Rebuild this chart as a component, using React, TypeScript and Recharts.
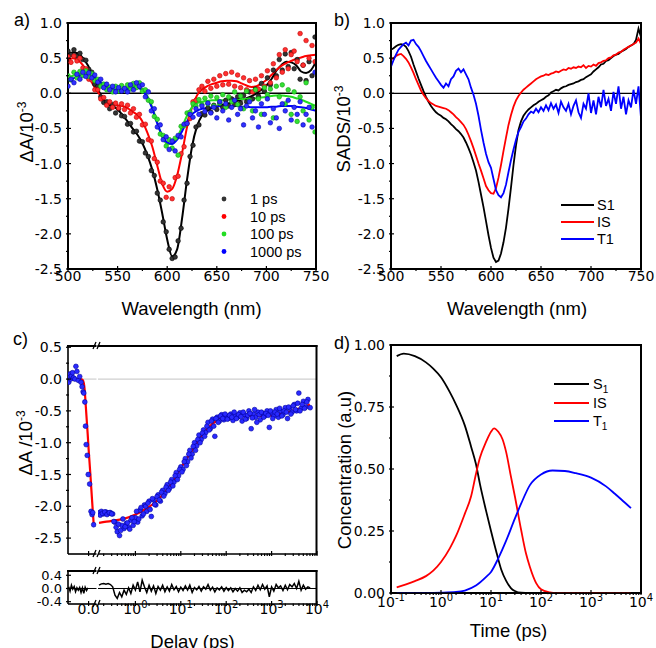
import React from "react";
import { ComposedChart, Line, Scatter, XAxis, YAxis, ReferenceLine, ReferenceArea } from "recharts";

// ---------------- Panel a: transient spectra ----------------
const WL_FIT = [500,505,510,515,520,525,530,535,540,545,550,555,560,565,570,575,580,585,590,595,600,605,610,615,620,625,630,635,640,645,650,655,660,665,670,675,680,685,690,695,700,705,710,715,720,725,730,735,740,745,750];
const FIT_1PS = [0.57,0.58,0.57,0.50,0.40,0.24,0.07,-0.08,-0.16,-0.18,-0.23,-0.31,-0.40,-0.50,-0.59,-0.71,-0.88,-1.09,-1.37,-1.71,-2.08,-2.32,-2.22,-1.78,-1.23,-0.76,-0.47,-0.32,-0.25,-0.21,-0.19,-0.17,-0.15,-0.13,-0.11,-0.09,-0.07,-0.04,0.00,0.05,0.11,0.20,0.32,0.40,0.45,0.44,0.40,0.31,0.29,0.33,0.45];
const FIT_10PS = [0.47,0.50,0.47,0.40,0.27,0.13,0.02,-0.08,-0.14,-0.16,-0.17,-0.18,-0.21,-0.26,-0.31,-0.40,-0.56,-0.76,-1.03,-1.29,-1.40,-1.36,-1.17,-0.85,-0.48,-0.20,-0.03,0.05,0.10,0.13,0.15,0.17,0.18,0.18,0.17,0.14,0.11,0.09,0.10,0.14,0.19,0.26,0.33,0.39,0.43,0.46,0.49,0.51,0.53,0.54,0.55];
const FIT_100PS = [0.22,0.25,0.27,0.28,0.27,0.23,0.17,0.11,0.07,0.05,0.05,0.06,0.08,0.10,0.10,0.06,-0.04,-0.20,-0.42,-0.62,-0.72,-0.72,-0.63,-0.48,-0.32,-0.20,-0.14,-0.12,-0.11,-0.10,-0.10,-0.10,-0.09,-0.09,-0.08,-0.08,-0.08,-0.07,-0.07,-0.06,-0.05,-0.04,-0.03,-0.03,-0.04,-0.05,-0.07,-0.09,-0.12,-0.15,-0.18];
const FIT_1000PS = [0.17,0.21,0.24,0.26,0.26,0.24,0.19,0.13,0.09,0.06,0.05,0.05,0.06,0.08,0.08,0.04,-0.06,-0.22,-0.43,-0.60,-0.70,-0.72,-0.66,-0.54,-0.40,-0.30,-0.25,-0.22,-0.21,-0.20,-0.19,-0.18,-0.18,-0.18,-0.18,-0.19,-0.19,-0.20,-0.20,-0.20,-0.20,-0.19,-0.19,-0.18,-0.18,-0.18,-0.19,-0.20,-0.21,-0.23,-0.25];

const WL_PTS = [500,503,506,509,512,515,518,521,524,527,530,533,536,539,542,545,548,551,554,557,560,563,566,569,572,575,578,581,584,587,590,593,596,599,602,605,608,611,614,617,620,623,626,629,632,635,638,641,644,647,650,653,656,659,662,665,668,671,674,677,680,683,686,689,692,695,698,701,704,707,710,713,716,719,722,725,728,731,734,737,740,743,746,749];
const PTS_1PS = [0.60,0.55,0.62,0.53,0.57,0.48,0.47,0.34,0.30,0.13,0.10,-0.05,-0.13,-0.12,-0.22,-0.16,-0.28,-0.22,-0.32,-0.33,-0.44,-0.43,-0.55,-0.54,-0.68,-0.69,-0.85,-0.90,-1.10,-1.17,-1.42,-1.52,-1.83,-1.97,-2.22,-2.35,-2.33,-2.10,-1.92,-1.52,-1.28,-0.90,-0.74,-0.48,-0.45,-0.29,-0.31,-0.21,-0.27,-0.17,-0.23,-0.14,-0.20,-0.10,-0.18,-0.08,-0.16,-0.05,-0.14,-0.03,-0.12,0.02,-0.08,0.06,-0.04,0.14,0.03,0.22,0.12,0.33,0.25,0.48,0.33,0.56,0.38,0.58,0.35,0.48,0.20,0.40,0.18,0.45,0.25,0.80];
const PTS_10PS = [0.52,0.44,0.53,0.46,0.50,0.36,0.35,0.20,0.19,0.05,0.05,-0.08,-0.06,-0.17,-0.12,-0.20,-0.14,-0.21,-0.15,-0.23,-0.17,-0.28,-0.22,-0.34,-0.30,-0.45,-0.44,-0.66,-0.68,-0.93,-0.98,-1.25,-1.28,-1.48,-1.33,-1.50,-1.20,-1.18,-0.86,-0.76,-0.43,-0.36,-0.12,-0.10,0.05,0.10,0.03,0.17,0.07,0.20,0.10,0.25,0.12,0.28,0.13,0.30,0.10,0.26,0.08,0.22,0.05,0.18,0.02,0.20,0.06,0.25,0.10,0.32,0.15,0.42,0.22,0.55,0.30,0.62,0.35,0.55,0.60,0.45,0.85,0.40,0.75,0.50,0.68,0.45];
const PTS_100PS = [0.25,0.19,0.30,0.22,0.31,0.25,0.32,0.24,0.28,0.18,0.20,0.10,0.13,0.05,0.09,0.02,0.10,0.03,0.11,0.05,0.12,0.06,0.14,0.08,0.15,0.03,0.05,-0.10,-0.12,-0.33,-0.37,-0.58,-0.60,-0.75,-0.66,-0.78,-0.64,-0.88,-0.47,-0.46,-0.28,-0.27,-0.15,-0.18,-0.09,-0.16,-0.07,-0.15,-0.04,-0.18,-0.06,-0.14,-0.02,-0.20,-0.05,-0.12,0.02,-0.16,-0.04,-0.22,0.03,-0.10,-0.25,0.05,-0.08,-0.30,0.08,-0.02,0.06,-0.35,0.10,-0.05,0.12,-0.15,0.05,-0.30,0.02,-0.40,-0.05,-0.25,0.15,-0.38,-0.20,-0.55];
const PTS_1000PS = [0.10,0.20,0.15,0.27,0.20,0.30,0.24,0.29,0.22,0.26,0.16,0.20,0.08,0.13,0.05,0.10,0.02,0.08,0.03,0.07,0.02,0.12,0.05,0.15,0.10,0.12,-0.05,0.02,-0.25,-0.22,-0.48,-0.45,-0.66,-0.62,-0.80,-0.68,-0.82,-0.60,-0.62,-0.44,-0.43,-0.30,-0.34,-0.22,-0.30,-0.18,-0.26,-0.14,-0.28,-0.20,-0.35,-0.12,-0.25,-0.15,-0.38,-0.20,-0.10,-0.30,-0.22,-0.45,-0.18,-0.12,-0.35,-0.25,-0.48,-0.15,-0.30,-0.08,-0.42,-0.22,-0.35,-0.50,-0.15,-0.25,-0.10,-0.38,-0.20,-0.30,-0.12,-0.45,-0.30,-0.20,-0.48,0.30];

// ---------------- Panel b: SADS ----------------
const WL_B = [500,502.5,505,507.5,510,512.5,515,517.5,520,522.5,525,527.5,530,532.5,535,537.5,540,542.5,545,547.5,550,552.5,555,557.5,560,562.5,565,567.5,570,572.5,575,577.5,580,582.5,585,587.5,590,592.5,595,597.5,600,602.5,605,607.5,610,612.5,615,617.5,620,622.5,625,627.5,630,632.5,635,637.5,640,642.5,645,647.5,650,652.5,655,657.5,660,662.5,665,667.5,670,672.5,675,677.5,680,682.5,685,687.5,690,692.5,695,697.5,700,702.5,705,707.5,710,712.5,715,717.5,720,722.5,725,727.5,730,732.5,735,737.5,740,742.5,745,747.5,750];
const SADS_S1 = [0.62,0.64,0.67,0.69,0.70,0.69,0.66,0.60,0.52,0.41,0.31,0.21,0.12,0.03,-0.05,-0.12,-0.18,-0.23,-0.27,-0.30,-0.32,-0.35,-0.37,-0.40,-0.44,-0.47,-0.51,-0.54,-0.58,-0.63,-0.70,-0.78,-0.87,-0.98,-1.10,-1.26,-1.44,-1.62,-1.82,-2.02,-2.20,-2.34,-2.40,-2.38,-2.28,-2.12,-1.91,-1.64,-1.34,-1.02,-0.74,-0.52,-0.40,-0.32,-0.27,-0.23,-0.20,-0.17,-0.15,-0.12,-0.10,-0.08,-0.05,-0.03,0.01,0.03,0.05,0.04,0.07,0.09,0.10,0.12,0.13,0.14,0.16,0.17,0.19,0.20,0.23,0.25,0.27,0.31,0.34,0.37,0.41,0.42,0.46,0.47,0.50,0.53,0.55,0.56,0.59,0.61,0.63,0.66,0.68,0.70,0.76,0.92,0.80];
const SADS_IS = [0.48,0.50,0.53,0.55,0.56,0.53,0.49,0.44,0.37,0.29,0.20,0.12,0.04,-0.02,-0.07,-0.11,-0.14,-0.16,-0.18,-0.19,-0.20,-0.21,-0.22,-0.24,-0.27,-0.30,-0.34,-0.37,-0.41,-0.45,-0.51,-0.59,-0.68,-0.78,-0.89,-1.00,-1.10,-1.21,-1.32,-1.38,-1.42,-1.43,-1.35,-1.20,-1.02,-0.82,-0.63,-0.45,-0.31,-0.19,-0.10,-0.04,0.01,0.05,0.08,0.11,0.14,0.17,0.20,0.22,0.24,0.25,0.27,0.26,0.28,0.29,0.31,0.30,0.32,0.34,0.33,0.36,0.35,0.37,0.36,0.38,0.37,0.40,0.36,0.39,0.38,0.41,0.39,0.43,0.44,0.46,0.47,0.50,0.51,0.54,0.55,0.58,0.59,0.62,0.64,0.66,0.68,0.70,0.72,0.78,0.70];
const SADS_T1 = [0.38,0.47,0.55,0.62,0.66,0.70,0.72,0.68,0.75,0.76,0.70,0.66,0.60,0.53,0.46,0.40,0.34,0.28,0.22,0.17,0.12,0.08,0.14,0.10,0.20,0.24,0.32,0.35,0.30,0.34,0.27,0.20,0.08,-0.02,-0.15,-0.32,-0.52,-0.70,-0.86,-0.98,-1.06,-1.22,-1.38,-1.45,-1.48,-1.42,-1.30,-1.12,-0.95,-0.80,-0.66,-0.55,-0.48,-0.40,-0.36,-0.30,-0.26,-0.28,-0.22,-0.27,-0.20,-0.25,-0.17,-0.24,-0.14,-0.22,-0.16,-0.28,-0.12,-0.20,-0.25,-0.15,-0.30,-0.18,-0.10,-0.27,-0.35,-0.15,-0.22,0.00,-0.28,-0.10,-0.30,-0.05,-0.20,0.05,-0.18,-0.08,-0.25,0.02,-0.15,0.10,-0.22,-0.05,-0.30,-0.10,-0.20,0.05,-0.15,0.10,-0.35];

// ---------------- Panel c: kinetics at the bleach ----------------
const C_LIN_T = [-0.29,-0.28,-0.27,-0.26,-0.25,-0.235,-0.22,-0.20,-0.185,-0.17,-0.15,-0.13,-0.11,-0.095,-0.08,-0.07,-0.055,-0.045,-0.035,-0.02,-0.005,0.015,0.035,0.05,0.06,0.074];
const C_LIN_V = [-0.05,0.03,0.08,0.0,0.05,0.10,0.02,0.0,0.20,0.12,-0.02,0.04,-0.05,-0.12,-0.20,-0.22,-0.36,-0.74,-1.03,-1.20,-1.50,-1.65,-2.08,-2.13,-2.10,-2.29];
const C_LINFIT_T = [-0.3,-0.12,-0.09,-0.07,-0.055,-0.045,-0.03,-0.013,0,0.013,0.026,0.05,0.074];
const C_LINFIT_V = [0,0,-0.01,-0.06,-0.2,-0.36,-0.6,-0.87,-1.1,-1.3,-1.5,-1.9,-2.28];
const C_LOG_T = [0.158,0.178,0.2,0.224,0.251,0.282,0.316,0.355,0.398,0.447,0.501,0.562,0.631,0.708,0.794,0.891,1.0,1.12,1.26,1.41,1.58,1.78,2.0,2.24,2.51,2.82,3.16,3.55,3.98,4.47,5.01,5.62,6.31,7.08,7.94,8.91,10,11.2,12.6,14.1,15.8,17.8,20,22.4,25.1,28.2,31.6,35.5,39.8,44.7,50.1,56.2,63.1,70.8,79.4,89.1,100,112,126,141,158,178,200,224,251,282,316,355,398,447,501,562,631,708,794,891,1000,1120,1260,1410,1580,1780,2000,2240,2510,2820,3160,3550,3980,4470,5010,5620,6310,7080];
const C_LOG_V = [-2.10,-2.08,-2.12,-2.09,-2.11,-2.10,-2.12,-2.25,-2.40,-2.46,-2.30,-2.35,-2.27,-2.33,-2.22,-2.30,-2.18,-2.25,-2.06,-2.15,-1.98,-2.08,-1.92,-2.16,-1.90,-1.98,-1.82,-1.92,-1.75,-1.80,-1.66,-1.72,-1.58,-1.62,-1.47,-1.52,-1.38,-1.42,-1.25,-1.30,-1.12,-1.18,-1.00,-1.05,-0.88,-0.95,-0.80,-0.84,-0.68,-0.78,-0.63,-0.90,-0.60,-0.66,-0.56,-0.64,-0.58,-0.62,-0.55,-0.65,-0.57,-0.60,-0.53,-0.66,-0.56,-0.62,-0.50,-0.78,-0.55,-0.60,-0.52,-0.64,-0.54,-0.58,-0.50,-0.76,-0.53,-0.58,-0.48,-0.60,-0.50,-0.56,-0.45,-0.62,-0.46,-0.52,-0.40,-0.50,-0.22,-0.46,-0.35,-0.44,-0.32,-0.45];
const C_LOG_T2 = [0.168,0.188,0.211,0.237,0.266,0.299,0.335,0.376,0.422,0.473,0.531,0.596,0.668,0.750,0.841,0.944,1.06,1.19,1.33,1.50,1.68,1.88,2.11,2.37,2.66,2.99,3.35,3.76,4.22,4.73,5.31,5.96,6.68,7.50,8.41,9.44,10.6,11.9,13.3,15.0,16.8,18.8,21.1,23.7,26.6,29.9,33.5,37.6,42.2,47.3,53.1,59.6,66.8,75.0,84.1,94.4,106,119,133,150,168,188,211,237,266,299,335,376,422,473,531,596,668,750,841,944,1060,1190,1330,1500,1680,1880,2110,2370,2660,2990,3350,3760,4220,4730,5310,5960];
const C_LOG_V2 = [-2.14,-2.11,-2.09,-2.13,-2.10,-2.12,-2.24,-2.33,-2.28,-2.38,-2.20,-2.32,-2.26,-2.36,-2.18,-2.24,-2.08,-2.20,-2.02,-2.12,-2.00,-1.95,-2.05,-1.88,-1.97,-1.85,-1.90,-1.78,-1.84,-1.70,-1.75,-1.62,-1.68,-1.52,-1.58,-1.42,-1.46,-1.30,-1.36,-1.18,-1.24,-1.06,-1.12,-0.95,-1.00,-0.85,-0.90,-0.74,-0.80,-0.66,-0.74,-0.62,-0.68,-0.58,-0.62,-0.55,-0.63,-0.57,-0.60,-0.52,-0.62,-0.56,-0.59,-0.52,-0.63,-0.57,-0.54,-0.61,-0.48,-0.68,-0.56,-0.52,-0.60,-0.54,-0.57,-0.50,-0.62,-0.52,-0.55,-0.46,-0.58,-0.50,-0.52,-0.44,-0.55,-0.42,-0.48,-0.38,-0.50,-0.40,-0.46,-0.36];
const C_FIT_T = [0.158,0.3,0.6,1,1.6,2.5,3.8,6.3,10,17.8,30,50,85,141,300,670,1870,3740,7000];
const C_FIT_V = [-2.26,-2.23,-2.19,-2.13,-2.05,-1.96,-1.84,-1.64,-1.40,-1.12,-0.87,-0.70,-0.61,-0.58,-0.58,-0.58,-0.54,-0.47,-0.40];
const RES_LIN_T = [-0.29,-0.27,-0.25,-0.23,-0.21,-0.19,-0.17,-0.15,-0.13,-0.11,-0.09,-0.07,-0.05,-0.03,-0.01];
const RES_LIN_V = [0.05,-0.08,0.10,-0.02,0.06,-0.10,0.02,-0.05,0.03,-0.12,0.02,-0.15,0.04,-0.06,0.02];
const RES_LOG_V = [0.10,0.14,0.15,0.13,0.15,0.12,0.05,-0.20,-0.30,-0.12,-0.25,-0.05,-0.18,0.02,-0.15,0.10,-0.05,0.20,-0.10,0.25,0.05,-0.12,0.10,-0.08,0.08,-0.15,0.06,-0.05,0.10,-0.10,0.05,-0.08,0.12,-0.04,0.06,-0.10,0.04,-0.06,0.08,-0.05,0.10,-0.12,0.03,-0.04,0.06,-0.08,0.05,-0.02,0.12,-0.05,0.04,-0.10,0.02,-0.04,0.05,-0.08,0.03,-0.06,0.02,-0.10,0.00,-0.08,0.02,-0.12,-0.05,-0.10,-0.02,-0.12,0.05,-0.06,0.10,-0.04,0.12,-0.02,0.08,-0.25,0.05,-0.08,0.12,0.02,0.08,-0.06,0.10,-0.04,0.12,0.05,0.15,0.00,0.22,-0.05,0.10,-0.02,0.05,0.02];

// ---------------- Panel d: populations ----------------
const D_S1_T = [0.13,0.18,0.3,0.5,0.7,1,1.5,2,3,4,5,6,8,10,13,16,20,25,30,40,60,100,300,1000,3000,6300];
const D_S1_V = [0.955,0.965,0.955,0.93,0.905,0.87,0.81,0.76,0.675,0.59,0.52,0.44,0.33,0.25,0.16,0.095,0.05,0.02,0.008,0.001,0,0,0,0,0,0];
const D_IS_T = [0.13,0.2,0.3,0.5,0.7,1,1.5,2,3,4,5,6,8,10,11.5,14,17,20,25,30,40,50,60,80,100,150,200,1000,6300];
const D_IS_V = [0.023,0.035,0.048,0.068,0.09,0.125,0.18,0.23,0.32,0.39,0.48,0.545,0.61,0.65,0.664,0.65,0.62,0.57,0.47,0.39,0.255,0.16,0.105,0.04,0.015,0.003,0,0,0];
const D_T1_T = [0.13,0.5,1,2,3,5,8,10,14,20,30,40,60,100,170,300,500,1000,2000,3000,4000,6300];
const D_T1_V = [0,0,0.001,0.004,0.01,0.03,0.065,0.085,0.14,0.21,0.30,0.36,0.435,0.478,0.494,0.492,0.483,0.465,0.43,0.40,0.378,0.342];

// ---------------- ticks ----------------
const WL_MAJOR = [500,550,600,650,700,750];
const WL_MINOR = [525,575,625,675,725];
const AB_Y_MAJOR = [1,0.5,0,-0.5,-1,-1.5,-2,-2.5];
const AB_Y_MINOR = [0.75,0.25,-0.25,-0.75,-1.25,-1.75,-2.25];
const C_Y_MAJOR = [0.5,0,-0.5,-1,-1.5,-2,-2.5];
const C_Y_MINOR = [0.25,-0.25,-0.75,-1.25,-1.75,-2.25];
const RES_Y_MAJOR = [0.4,0,-0.4];
const LIN_X_MAJOR = [0];
const C_LOG_MAJOR = [1,10,100,1000,10000];
const C_LOG_MINOR = [0.2,0.3,0.4,0.5,0.6,0.7,0.8,0.9,2,3,4,5,6,7,8,9,20,30,40,50,60,70,80,90,200,300,400,500,600,700,800,900,2000,3000,4000,5000,6000,7000,8000,9000];
const D_LOG_MAJOR = [0.1,1,10,100,1000,10000];
const D_Y_MAJOR = [0,0.25,0.5,0.75,1];
const D_Y_MINOR = [0.125,0.375,0.625,0.875];

const TICK_FONT = "'DejaVu Sans', 'Liberation Sans', sans-serif";
const LABEL_FONT = "'Liberation Sans', Arial, sans-serif";
const AXL = { stroke: "#000", strokeWidth: 1.6 };
const RED = "#ff0000";
const BLUE = "#0000ff";
const GREEN = "#22dd22";

const pairs = (xs: number[], ys: number[]) => xs.map((x, i) => ({ x, y: ys[i] }));
const near = (v: number, list: number[]) => list.some((m) => Math.abs(m - v) <= 1e-9 * Math.max(1, Math.abs(m)));

function YTick(props: any) {
  const { x, y, payload, major, digits, label = true, fs = 14 } = props;
  const v = payload.value;
  const isMajor = near(v, major);
  return (
    <g>
      <line x1={x} x2={x + (isMajor ? 5 : 3)} y1={y} y2={y} stroke="#000" strokeWidth={1.2} />
      {isMajor && label && (
        <text x={x - 4} y={y} dy="0.36em" textAnchor="end" fontSize={fs} fontFamily={TICK_FONT} fill="#000">
          {v.toFixed(digits)}
        </text>
      )}
    </g>
  );
}

function XTick(props: any) {
  const { x, y, payload, major, kind, label = true, dy = 10 } = props;
  const v = payload.value;
  const isMajor = near(v, major);
  let txt: any = null;
  if (isMajor && label) {
    if (kind === "log") {
      const e = Math.round(Math.log10(v));
      txt = (
        <text x={x} y={y + dy} textAnchor="middle" fontSize={14} fontFamily={TICK_FONT} fill="#000">
          <tspan>10</tspan>
          <tspan dy={-6} fontSize={10}>{String(e)}</tspan>
        </text>
      );
    } else {
      txt = (
        <text x={x} y={y + dy} textAnchor="middle" fontSize={14} fontFamily={TICK_FONT} fill="#000">
          {kind === "int" ? String(v) : v.toFixed(1)}
        </text>
      );
    }
  }
  return (
    <g>
      <line x1={x} x2={x} y1={y} y2={y - (isMajor ? 5 : 2.5)} stroke="#000" strokeWidth={1.2} />
      {txt}
    </g>
  );
}

const dot = (fill: string, stroke: string, r = 2.3) => (p: any) =>
  <circle cx={p.cx} cy={p.cy} r={r} fill={fill} stroke={stroke} strokeWidth={0.6} />;

function Pos({ left, top, children }: any) {
  return <div style={{ position: "absolute", left, top }}>{children}</div>;
}

function PanelA() {
  return (
    <Pos left={8} top={13}>
      <ComposedChart width={324} height={280} margin={{ top: 10, right: 16, left: 0, bottom: 0 }}>
        <XAxis xAxisId="b" type="number" dataKey="x" domain={[500, 750]} allowDataOverflow ticks={[...WL_MAJOR, ...WL_MINOR]} interval={0} height={24} tickSize={0} tickLine={false} axisLine={AXL} tick={(p: any) => <XTick {...p} major={WL_MAJOR} kind="int" dy={10} />} />
        <YAxis yAxisId="l" type="number" domain={[-2.5, 1]} allowDataOverflow ticks={[...AB_Y_MAJOR, ...AB_Y_MINOR]} interval={0} width={60} tickSize={0} tickLine={false} axisLine={AXL} tick={(p: any) => <YTick {...p} major={AB_Y_MAJOR} digits={1} />} />
        <ReferenceArea xAxisId="b" yAxisId="l" x1={500} x2={750} y1={-2.5} y2={1} fill="none" fillOpacity={0} stroke="#000" strokeWidth={2} ifOverflow="visible" />
        <ReferenceLine xAxisId="b" yAxisId="l" y={0} stroke="#000" strokeWidth={1.5} />
        <Scatter xAxisId="b" yAxisId="l" data={pairs(WL_PTS, PTS_1PS)} dataKey="y" shape={dot("#333", "#000")} isAnimationActive={false} />
        <Scatter xAxisId="b" yAxisId="l" data={pairs(WL_PTS, PTS_10PS)} dataKey="y" shape={dot("#ff3030", "#c00000")} isAnimationActive={false} />
        <Scatter xAxisId="b" yAxisId="l" data={pairs(WL_PTS, PTS_100PS)} dataKey="y" shape={dot("#33e033", "#10a010")} isAnimationActive={false} />
        <Scatter xAxisId="b" yAxisId="l" data={pairs(WL_PTS, PTS_1000PS)} dataKey="y" shape={dot("#3030ff", "#0000b0")} isAnimationActive={false} />
        <Line xAxisId="b" yAxisId="l" data={pairs(WL_FIT, FIT_1PS)} dataKey="y" type="monotone" stroke="#000" strokeWidth={2} dot={false} isAnimationActive={false} />
        <Line xAxisId="b" yAxisId="l" data={pairs(WL_FIT, FIT_10PS)} dataKey="y" type="monotone" stroke={RED} strokeWidth={2} dot={false} isAnimationActive={false} />
        <Line xAxisId="b" yAxisId="l" data={pairs(WL_FIT, FIT_100PS)} dataKey="y" type="monotone" stroke={GREEN} strokeWidth={2} dot={false} isAnimationActive={false} />
        <Line xAxisId="b" yAxisId="l" data={pairs(WL_FIT, FIT_1000PS)} dataKey="y" type="monotone" stroke={BLUE} strokeWidth={2} dot={false} isAnimationActive={false} />
      </ComposedChart>
    </Pos>
  );
}

function PanelB() {
  return (
    <Pos left={331} top={13}>
      <ComposedChart width={326} height={280} margin={{ top: 10, right: 16, left: 0, bottom: 0 }}>
        <XAxis xAxisId="b" type="number" dataKey="x" domain={[500, 750]} allowDataOverflow ticks={[...WL_MAJOR, ...WL_MINOR]} interval={0} height={24} tickSize={0} tickLine={false} axisLine={AXL} tick={(p: any) => <XTick {...p} major={WL_MAJOR} kind="int" dy={10} />} />
        <YAxis yAxisId="l" type="number" domain={[-2.5, 1]} allowDataOverflow ticks={[...AB_Y_MAJOR, ...AB_Y_MINOR]} interval={0} width={60} tickSize={0} tickLine={false} axisLine={AXL} tick={(p: any) => <YTick {...p} major={AB_Y_MAJOR} digits={1} />} />
        <ReferenceArea xAxisId="b" yAxisId="l" x1={500} x2={750} y1={-2.5} y2={1} fill="none" fillOpacity={0} stroke="#000" strokeWidth={2} ifOverflow="visible" />
        <ReferenceLine xAxisId="b" yAxisId="l" y={0} stroke="#000" strokeWidth={1.2} />
        <Line xAxisId="b" yAxisId="l" data={pairs(WL_B, SADS_S1)} dataKey="y" type="linear" stroke="#000" strokeWidth={1.8} dot={false} isAnimationActive={false} />
        <Line xAxisId="b" yAxisId="l" data={pairs(WL_B, SADS_IS)} dataKey="y" type="linear" stroke={RED} strokeWidth={1.8} dot={false} isAnimationActive={false} />
        <Line xAxisId="b" yAxisId="l" data={pairs(WL_B, SADS_T1)} dataKey="y" type="linear" stroke={BLUE} strokeWidth={1.8} dot={false} isAnimationActive={false} />
      </ComposedChart>
    </Pos>
  );
}

const C_Y_DOMAIN = [-2.75, 0.52];
const RES_DOMAIN = [-0.47, 0.53];
const LIN_DOMAIN = [-0.3, 0.115];
const LOG_DOMAIN = [0.15, 10000];

function PanelC() {
  return (
    <>
      {/* main, linear part */}
      <Pos left={8} top={336}>
        <ComposedChart width={100.5} height={222} margin={{ top: 10, right: 12, left: 0, bottom: 0 }}>
          <XAxis xAxisId="b" type="number" dataKey="x" domain={LIN_DOMAIN} allowDataOverflow ticks={LIN_X_MAJOR} interval={0} height={4} tickSize={0} tickLine={false} axisLine={AXL} tick={(p: any) => <XTick {...p} major={LIN_X_MAJOR} label={false} />} />
          <YAxis yAxisId="l" type="number" domain={C_Y_DOMAIN} allowDataOverflow ticks={[...C_Y_MAJOR, ...C_Y_MINOR]} interval={0} width={60} tickSize={0} tickLine={false} axisLine={AXL} tick={(p: any) => <YTick {...p} major={C_Y_MAJOR} digits={1} />} />
          <ReferenceLine xAxisId="b" yAxisId="l" y={0} stroke="#cfcfcf" strokeWidth={1.2} />
          <Scatter xAxisId="b" yAxisId="l" data={pairs(C_LIN_T, C_LIN_V)} dataKey="y" shape={dot("#2a2aff", "#0000a0", 2.4)} isAnimationActive={false} />
          <Line xAxisId="b" yAxisId="l" data={pairs(C_LINFIT_T, C_LINFIT_V)} dataKey="y" type="monotone" stroke={RED} strokeWidth={2.2} dot={false} isAnimationActive={false} />
        </ComposedChart>
      </Pos>
      {/* main, log part */}
      <Pos left={97.5} top={336}>
        <ComposedChart width={235} height={222} margin={{ top: 10, right: 16, left: 0, bottom: 0 }}>
          <XAxis xAxisId="b" type="number" scale="log" dataKey="x" domain={LOG_DOMAIN} allowDataOverflow ticks={[...C_LOG_MAJOR, ...C_LOG_MINOR]} interval={0} height={4} tickSize={0} tickLine={false} axisLine={AXL} tick={(p: any) => <XTick {...p} major={C_LOG_MAJOR} label={false} />} />
          <YAxis yAxisId="l" hide type="number" domain={C_Y_DOMAIN} allowDataOverflow />
          <ReferenceLine xAxisId="b" yAxisId="l" y={0} stroke="#cfcfcf" strokeWidth={1.2} />
          <Scatter xAxisId="b" yAxisId="l" data={pairs(C_LOG_T, C_LOG_V)} dataKey="y" shape={dot("#2a2aff", "#0000a0", 2.4)} isAnimationActive={false} />
          <Scatter xAxisId="b" yAxisId="l" data={pairs(C_LOG_T2, C_LOG_V2)} dataKey="y" shape={dot("#2a2aff", "#0000a0", 2.4)} isAnimationActive={false} />
          <Line xAxisId="b" yAxisId="l" data={pairs(C_FIT_T, C_FIT_V)} dataKey="y" type="monotone" stroke={RED} strokeWidth={2.2} dot={false} isAnimationActive={false} />
        </ComposedChart>
      </Pos>
      {/* residuals, linear part */}
      <Pos left={8} top={561}>
        <ComposedChart width={100.5} height={65} margin={{ top: 10, right: 12, left: 0, bottom: 0 }}>
          <XAxis xAxisId="b" type="number" dataKey="x" domain={LIN_DOMAIN} allowDataOverflow ticks={LIN_X_MAJOR} interval={0} height={22} tickSize={0} tickLine={false} axisLine={AXL} tick={(p: any) => <XTick {...p} major={LIN_X_MAJOR} kind="dec" dy={8} />} />
          <YAxis yAxisId="l" type="number" domain={RES_DOMAIN} allowDataOverflow ticks={RES_Y_MAJOR} interval={0} width={60} tickSize={0} tickLine={false} axisLine={AXL} tick={(p: any) => <YTick {...p} major={RES_Y_MAJOR} digits={1} fs={13} />} />
          <ReferenceLine xAxisId="b" yAxisId="l" y={0} stroke="#000" strokeWidth={1} />
          <Line xAxisId="b" yAxisId="l" data={pairs(RES_LIN_T, RES_LIN_V)} dataKey="y" type="linear" stroke="#000" strokeWidth={1.5} dot={false} isAnimationActive={false} />
        </ComposedChart>
      </Pos>
      {/* residuals, log part */}
      <Pos left={97.5} top={561}>
        <ComposedChart width={235} height={65} margin={{ top: 10, right: 16, left: 0, bottom: 0 }}>
          <XAxis xAxisId="b" type="number" scale="log" dataKey="x" domain={LOG_DOMAIN} allowDataOverflow ticks={[...C_LOG_MAJOR, ...C_LOG_MINOR]} interval={0} height={22} tickSize={0} tickLine={false} axisLine={AXL} tick={(p: any) => <XTick {...p} major={C_LOG_MAJOR} kind="log" dy={8} />} />
          <YAxis yAxisId="l" hide type="number" domain={RES_DOMAIN} allowDataOverflow />
          <ReferenceLine xAxisId="b" yAxisId="l" y={0} stroke="#000" strokeWidth={1} />
          <Line xAxisId="b" yAxisId="l" data={pairs(C_LOG_T, RES_LOG_V)} dataKey="y" type="linear" stroke="#000" strokeWidth={1.5} dot={false} isAnimationActive={false} />
        </ComposedChart>
      </Pos>
    </>
  );
}

function PanelD() {
  return (
    <Pos left={331} top={335}>
      <ComposedChart width={326} height={282} margin={{ top: 10, right: 16, left: 0, bottom: 0 }}>
        <XAxis xAxisId="b" type="number" scale="log" dataKey="x" domain={[0.1, 10000]} allowDataOverflow ticks={[...D_LOG_MAJOR, ...C_LOG_MINOR]} interval={0} height={24} tickSize={0} tickLine={false} axisLine={AXL} tick={(p: any) => <XTick {...p} major={D_LOG_MAJOR} kind="log" dy={12} />} />
        <YAxis yAxisId="l" type="number" domain={[0, 1]} allowDataOverflow ticks={[...D_Y_MAJOR, ...D_Y_MINOR]} interval={0} width={60} tickSize={0} tickLine={false} axisLine={AXL} tick={(p: any) => <YTick {...p} major={D_Y_MAJOR} digits={2} />} />
        <ReferenceArea xAxisId="b" yAxisId="l" x1={0.1} x2={10000} y1={0} y2={1} fill="none" fillOpacity={0} stroke="#000" strokeWidth={2} ifOverflow="visible" />
        <Line xAxisId="b" yAxisId="l" data={pairs(D_S1_T, D_S1_V)} dataKey="y" type="monotone" stroke="#000" strokeWidth={1.8} dot={false} isAnimationActive={false} />
        <Line xAxisId="b" yAxisId="l" data={pairs(D_IS_T, D_IS_V)} dataKey="y" type="monotone" stroke={RED} strokeWidth={1.8} dot={false} isAnimationActive={false} />
        <Line xAxisId="b" yAxisId="l" data={pairs(D_T1_T, D_T1_V)} dataKey="y" type="monotone" stroke={BLUE} strokeWidth={1.8} dot={false} isAnimationActive={false} />
      </ComposedChart>
    </Pos>
  );
}

function Overlay() {
  const L = { fontFamily: LABEL_FONT, fill: "#000" } as any;
  const rot = (x: number, y: number) => `rotate(-90 ${x} ${y})`;
  const breakMark = (x: number, y: number) => (
    <g key={`${x}-${y}`} stroke="#000" strokeWidth={1.3}>
      <line x1={x - 4} y1={y + 3} x2={x - 1} y2={y - 4} />
      <line x1={x} y1={y + 3} x2={x + 3} y2={y - 4} />
    </g>
  );
  return (
    <svg width={656} height={648} style={{ position: "absolute", left: 0, top: 0, overflow: "visible", pointerEvents: "none" }}>
      {/* frame lines: top and right edges */}
      <g stroke="#000" strokeWidth={2}>
        <line x1={67} y1={23} x2={317} y2={23} />
        <line x1={316} y1={22} x2={316} y2={270} />
        <line x1={390} y1={23} x2={642} y2={23} />
        <line x1={641} y1={22} x2={641} y2={270} />
        <line x1={390} y1={345} x2={642} y2={345} />
        <line x1={641} y1={344} x2={641} y2={594} />
        <line x1={67} y1={346} x2={96.5} y2={346} />
        <line x1={97.5} y1={346} x2={317.5} y2={346} />
        <line x1={316.5} y1={345} x2={316.5} y2={555} />
        <line x1={67} y1={571} x2={96.5} y2={571} />
        <line x1={97.5} y1={571} x2={317.5} y2={571} />
        <line x1={316.5} y1={570} x2={316.5} y2={605} />
      </g>

      {/* panel letters */}
      <text x={14} y={26} fontSize={18} {...L}>a)</text>
      <text x={334} y={26} fontSize={18} {...L}>b)</text>
      <text x={13} y={345} fontSize={18} {...L}>c)</text>
      <text x={334} y={349} fontSize={18} {...L}>d)</text>

      {/* axis titles */}
      <text x={191.5} y={315} fontSize={18.5} textAnchor="middle" {...L}>Wavelength (nm)</text>
      <text x={517} y={315} fontSize={18.5} textAnchor="middle" {...L}>Wavelength (nm)</text>
      <text x={192.5} y={648} fontSize={18.5} textAnchor="middle" {...L}>Delay (ps)</text>
      <text x={508.5} y={637} fontSize={18.5} textAnchor="middle" {...L}>Time (ps)</text>

      <text x={33} y={132} fontSize={18.5} textAnchor="middle" transform={rot(33, 132)} {...L}>
        ΔA/10<tspan dy={-7} fontSize={12}>-3</tspan>
      </text>
      <text x={350} y={129} fontSize={18.5} textAnchor="middle" transform={rot(350, 129)} {...L}>
        SADS/10<tspan dy={-7} fontSize={12}>-3</tspan>
      </text>
      <text x={31.5} y={443} fontSize={18.5} textAnchor="middle" transform={rot(31.5, 443)} {...L}>
        ΔA /10<tspan dy={-7} fontSize={12}>-3</tspan>
      </text>
      <text x={351} y={470} fontSize={18.5} textAnchor="middle" transform={rot(351, 470)} {...L}>Concentration (a.u)</text>

      {/* legend a */}
      {[
        ["#333", "1 ps", 199],
        [RED, "10 ps", 216.5],
        [GREEN, "100 ps", 234],
        [BLUE, "1000 ps", 251.5],
      ].map(([c, t, y]: any) => (
        <g key={t}>
          <circle cx={224} cy={y} r={2.4} fill={c} />
          <text x={250} y={y + 5} fontSize={14.5} {...L}>{t}</text>
        </g>
      ))}

      {/* legend b */}
      {[
        ["#000", "S1", 205],
        [RED, "IS", 222],
        [BLUE, "T1", 239],
      ].map(([c, t, y]: any) => (
        <g key={t}>
          <line x1={561} x2={594} y1={y} y2={y} stroke={c} strokeWidth={2} />
          <text x={597} y={y + 5} fontSize={14.5} {...L}>{t}</text>
        </g>
      ))}

      {/* legend d */}
      <line x1={554} x2={589} y1={384} y2={384} stroke="#000" strokeWidth={2} />
      <text x={593} y={389} fontSize={14.5} {...L}>S<tspan dy={4} fontSize={10}>1</tspan></text>
      <line x1={554} x2={589} y1={403} y2={403} stroke={RED} strokeWidth={2} />
      <text x={593} y={408} fontSize={14.5} {...L}>IS</text>
      <line x1={554} x2={589} y1={421} y2={421} stroke={BLUE} strokeWidth={2} />
      <text x={593} y={426} fontSize={14.5} {...L}>T<tspan dy={4} fontSize={10}>1</tspan></text>

      {/* axis break marks */}
      {[346, 554, 571, 604].map((y) => breakMark(97, y))}
    </svg>
  );
}

export default function App() {
  return (
    <div style={{ position: "absolute", left: 0, top: 0, width: 656, height: 648, background: "#fff", overflow: "hidden" }}>
      <PanelA />
      <PanelB />
      <PanelC />
      <PanelD />
      <Overlay />
    </div>
  );
}
